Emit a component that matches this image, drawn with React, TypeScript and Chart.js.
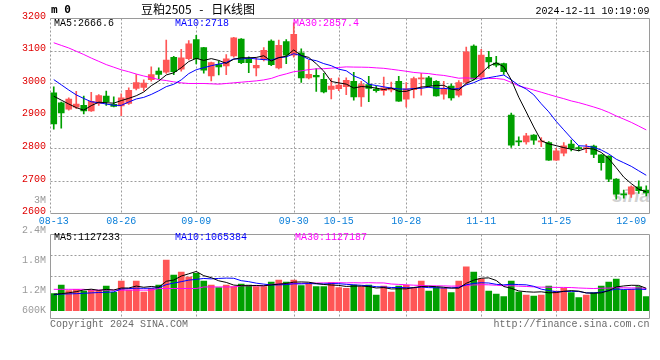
import React, { useEffect, useRef } from 'react';
import { Chart, registerables } from 'chart.js';

Chart.register(...registerables);

// ---------------- data ----------------
const dates = [
  '08-13', '08-14', '08-15', '08-16', '08-19', '08-20', '08-21', '08-22', '08-23', '08-26', '08-27', '08-28', '08-29', '08-30',
  '09-02', '09-03', '09-04', '09-05', '09-06', '09-09', '09-10', '09-11', '09-12', '09-13', '09-18', '09-19', '09-20', '09-23', '09-24', '09-25', '09-26', '09-27', '09-30',
  '10-08', '10-09', '10-10', '10-11', '10-14', '10-15', '10-16', '10-17', '10-18', '10-21', '10-22', '10-23', '10-24', '10-25', '10-28', '10-29', '10-30', '10-31',
  '11-01', '11-04', '11-05', '11-06', '11-07', '11-08', '11-11', '11-12', '11-13', '11-14', '11-15', '11-18', '11-19', '11-20', '11-21', '11-22', '11-25', '11-26', '11-27', '11-28', '11-29',
  '12-02', '12-03', '12-04', '12-05', '12-06', '12-09', '12-10', '12-11',
];

const opens = [
  2970, 2940, 2920, 2926, 2932, 2915, 2938, 2960, 2935, 2930, 2938, 2984, 2987, 3011, 3037, 3034, 3079, 3043, 3075, 3134,
  3109, 3022, 3057, 3053, 3084, 3135, 3075, 3047, 3072, 3129, 3047, 3128, 3086, 3093, 3016, 3024, 3012, 2981, 2983, 2989,
  3006, 2958, 2996, 2982, 2977, 2979, 3006, 2951, 2980, 3013, 3016, 3006, 2966, 2991, 2963, 3002, 3114, 3019, 3079, 3062,
  3060, 2902, 2822, 2820, 2841, 2820, 2818, 2764, 2785, 2813, 2801, 2799, 2807, 2780, 2776, 2706, 2659, 2659, 2682, 2672,
];
const highs = [
  2989, 2942, 2955, 2975, 2960, 2972, 2965, 2976, 2958, 2967, 2986, 3026, 3010, 3050, 3047, 3132, 3082, 3104, 3131, 3147,
  3110, 3065, 3068, 3088, 3141, 3137, 3081, 3077, 3109, 3133, 3132, 3134, 3185, 3105, 3070, 3045, 3030, 3015, 3016, 3016,
  3033, 3006, 3021, 2990, 3019, 3003, 3021, 3002, 3019, 3030, 3021, 3008, 3006, 2997, 3008, 3111, 3118, 3104, 3098, 3082,
  3062, 2908, 2835, 2846, 2842, 2833, 2821, 2800, 2818, 2825, 2807, 2812, 2810, 2781, 2777, 2707, 2672, 2685, 2700, 2685,
];
const lows = [
  2859, 2862, 2917, 2922, 2906, 2913, 2932, 2932, 2927, 2900, 2935, 2979, 2976, 3006, 3014, 3030, 3026, 3037, 3071, 3059,
  3031, 3007, 3025, 3026, 3080, 3060, 3032, 3022, 3068, 3054, 3044, 3060, 3080, 3002, 3013, 2975, 2970, 2952, 2977, 2965,
  2948, 2929, 2943, 2972, 2963, 2973, 2944, 2927, 2955, 2963, 2988, 2960, 2951, 2948, 2958, 2996, 3010, 3014, 3045, 3050,
  3027, 2803, 2808, 2813, 2812, 2805, 2763, 2763, 2777, 2792, 2792, 2787, 2771, 2733, 2698, 2644, 2647, 2649, 2662, 2654,
];
const closes = [
  2875, 2909, 2951, 2936, 2915, 2944, 2962, 2943, 2929, 2955, 2978, 3002, 3000, 3026, 3027, 3071, 3035, 3078, 3121, 3075,
  3040, 3063, 3050, 3075, 3139, 3063, 3063, 3055, 3101, 3057, 3116, 3086, 3150, 3016, 3027, 3019, 2973, 2991, 2994, 3009,
  2958, 2996, 2984, 2977, 2986, 2983, 2945, 2983, 3014, 3016, 2992, 2961, 2984, 2955, 3002, 3096, 3012, 3086, 3065, 3055,
  3035, 2810, 2820, 2838, 2825, 2822, 2764, 2792, 2808, 2800, 2799, 2801, 2781, 2756, 2705, 2659, 2657, 2682, 2670, 2663,
];
const volumes = [
  869000, 1298000, 1010000, 1081000, 995000, 1045000, 1010000, 1247000, 929000, 1500000,
  1045000, 1500000, 944000, 1131000, 1298000, 2560000, 1803000, 1954000, 1702000, 1889000,
  1500000, 1298000, 1162000, 1298000, 1212000, 1348000, 1298000, 1212000, 1212000, 1449000,
  1550000, 1449000, 1550000, 1263000, 1384000, 1212000, 1212000, 1414000, 1162000, 1131000,
  1298000, 1212000, 1298000, 793000, 1247000, 944000, 1247000, 1283000, 1131000, 1500000,
  995000, 1162000, 1131000, 909000, 1500000, 2222000, 1954000, 1616000, 995000, 843000,
  707000, 1500000, 944000, 793000, 742000, 793000, 1247000, 995000, 1131000, 909000,
  657000, 793000, 909000, 1247000, 1449000, 1601000, 1045000, 1081000, 1212000, 707000,
];

// moving-average values before enough in-window closes exist
const ma5Head = [2960, 2948, 2936, 2925];
const ma10Head = [3011, 2995, 2979, 2964, 2953, 2943, 2940, 2936, 2932];
const ma30Head = [
  3124, 3116, 3108, 3098, 3088, 3077, 3067, 3057, 3049, 3041, 3035, 3028, 3022, 3017, 3011,
  3008, 3004, 3001, 2999, 2999, 2999, 2998, 2997, 2999, 3001, 3003, 3005, 3007, 3010,
];
const volMa5Head = [830000, 860000, 905000, 960000];
const volMa10Head = [800000, 840000, 850000, 860000, 880000, 900000, 920000, 930000, 950000];
const volMa30Head = [
  1080000, 1080000, 1080000, 1080000, 1080000,
  1040000, 1040000, 1040000, 1040000, 1040000, 1040000, 1040000, 1040000, 1040000,
  1120000, 1120000, 1120000, 1120000, 1120000, 1120000,
  1200000, 1200000, 1200000, 1200000, 1200000,
  1260000, 1260000, 1260000, 1260000,
];

const priceMin = 2600;
const priceMax = 3200;
const priceStep = 100;
const xLabelDates = ['08-13', '08-26', '09-09', '09-30', '10-15', '10-28', '11-11', '11-25', '12-09'];
const xGridDates = ['08-26', '09-09', '09-30', '10-15', '10-28', '11-11', '11-25'];
const volLabelValues = [3.0, 2.4, 1.8, 1.2, 0.79];
const volLabelTexts = ['3M', '2.4M', '1.8M', '1.2M', '600K'];
const volGridFractions = [3, 2];

const priceLegend = ['MA5:2666.6', 'MA10:2718', 'MA30:2857.4'];
const volLegend = ['MA5:1127233', 'MA10:1065384', 'MA30:1127187'];
const titleText = '豆粕2505 - 日K线图';
const codeText = 'm 0';
const timeText = '2024-12-11 10:19:09';
const copyrightText = 'Copyright 2024 SINA.COM';
const urlText = 'http://finance.sina.com.cn';

// ---------------- helpers & styles ----------------
const RED = '#ff5656';
const GREEN = '#00a000';
const GRID = '#9c9c9c';
const FRAME = '#9a9a9a';
const XBLUE = '#0b7fd9';
const MONO = "'Liberation Mono', 'DejaVu Sans Mono', monospace";

function movingAverage(values: number[], n: number, head: number[]): number[] {
  return values.map((_, i) => {
    if (i < n - 1) return head[i];
    let s = 0;
    for (let k = i - n + 1; k <= i; k++) s += values[k];
    return s / n;
  });
}

// frame + dotted grid, positioned through the chart's own scales
const makeFramePlugin = (dottedLeft: boolean, hScaleId: string, hValues: () => number[]) => ({
  id: 'frameGrid',
  beforeDatasetsDraw(chart: any) {
    const { ctx, chartArea: a, scales } = chart;
    const l = Math.floor(a.left) + 0.5;
    const r = Math.ceil(a.right) - 0.5;
    const t = Math.floor(a.top) + 0.5;
    const b = Math.floor(a.bottom) + 0.5;
    ctx.save();
    ctx.strokeStyle = GRID;
    ctx.lineWidth = 1;
    ctx.setLineDash([2, 2]);
    ctx.beginPath();
    const xs = scales.x;
    dates.forEach((d, i) => {
      if (!xGridDates.includes(d)) return;
      const px = Math.round(xs.getPixelForValue(i)) + 0.5;
      ctx.moveTo(px, t);
      ctx.lineTo(px, b);
    });
    const hs = scales[hScaleId];
    hValues().forEach((v) => {
      const py = Math.round(hs.getPixelForValue(v)) + 0.5;
      ctx.moveTo(l, py);
      ctx.lineTo(r, py);
    });
    ctx.stroke();
    ctx.restore();
  },
  afterDraw(chart: any) {
    const { ctx, chartArea: a } = chart;
    const l = Math.floor(a.left) + 0.5;
    const r = Math.ceil(a.right) - 0.5;
    const t = Math.floor(a.top) + 0.5;
    const b = Math.floor(a.bottom) + 0.5;
    ctx.save();
    ctx.strokeStyle = FRAME;
    ctx.lineWidth = 1;
    ctx.beginPath();
    ctx.moveTo(l, t);
    ctx.lineTo(r, t);
    ctx.lineTo(r, b);
    ctx.lineTo(l, b);
    ctx.stroke();
    ctx.beginPath();
    if (dottedLeft) ctx.setLineDash([2, 2]);
    ctx.moveTo(l, t);
    ctx.lineTo(l, b);
    ctx.stroke();
    ctx.restore();
  },
});

const priceGridValues = () => {
  const out: number[] = [];
  for (let v = priceMin + priceStep; v < priceMax; v += priceStep) out.push(v);
  return out;
};

export default function App() {
  const priceRef = useRef<HTMLCanvasElement>(null);
  const volRef = useRef<HTMLCanvasElement>(null);

  useEffect(() => {
    const colors = closes.map((c, i) => (c >= opens[i] ? RED : GREEN));
    const ma5 = movingAverage(closes, 5, ma5Head);
    const ma10 = movingAverage(closes, 10, ma10Head);
    const ma30 = movingAverage(closes, 30, ma30Head);
    const vma5 = movingAverage(volumes, 5, volMa5Head);
    const vma10 = movingAverage(volumes, 10, volMa10Head);
    const vma30 = movingAverage(volumes, 30, volMa30Head);

    const lineDs = (data: number[], color: string, yAxisID = 'y') => ({
      type: 'line' as const,
      data,
      borderColor: color,
      borderWidth: 1,
      pointRadius: 0,
      tension: 0,
      fill: false,
      order: 0,
      yAxisID,
    });

    const price = new Chart(priceRef.current!, {
      type: 'bar',
      data: {
        labels: dates,
        datasets: [
          lineDs(ma5, '#000000'),
          lineDs(ma10, '#0000ff'),
          lineDs(ma30, '#ff00ff'),
          {
            type: 'bar',
            data: opens.map((o, i) => [o, closes[i]]),
            backgroundColor: colors,
            barThickness: 6,
            minBarLength: 1,
            grouped: false,
            order: 5,
          } as any,
          {
            type: 'bar',
            data: lows.map((l, i) => [l, highs[i]]),
            backgroundColor: colors,
            barThickness: 1,
            grouped: false,
            order: 6,
          } as any,
        ],
      },
      options: {
        responsive: false,
        animation: false,
        events: [],
        layout: { padding: { top: 18, right: 10, left: 0, bottom: 0 } },
        plugins: { legend: { display: false }, tooltip: { enabled: false } },
        scales: {
          x: {
            type: 'category',
            offset: true,
            grid: { display: false, offset: false, drawTicks: false },
            border: { display: false },
            ticks: {
              autoSkip: false,
              maxRotation: 0,
              minRotation: 0,
              padding: 2,
              color: XBLUE,
              font: { family: MONO, size: 10 },
              callback: (_v: any, i: number) => (xLabelDates.includes(dates[i]) ? dates[i] : ''),
            },
            afterFit: (s: any) => {
              s.height = 16.5;
            },
          },
          y: {
            min: priceMin,
            max: priceMax,
            ticks: {
              stepSize: priceStep,
              color: '#e00000',
              font: { family: MONO, size: 10 },
              padding: 4,
              labelOffset: -2,
              callback: (v: any) => String(v),
            },
            grid: { display: false, drawTicks: false },
            border: { display: false },
            afterFit: (s: any) => {
              s.width = 50;
            },
          },
        },
      } as any,
      plugins: [makeFramePlugin(true, 'y', priceGridValues)],
    });

    const vol = new Chart(volRef.current!, {
      type: 'bar',
      data: {
        labels: dates,
        datasets: [
          lineDs(vma5, '#000000'),
          lineDs(vma10, '#0000ff'),
          lineDs(vma30, '#ff00ff'),
          {
            type: 'bar',
            data: volumes,
            backgroundColor: colors,
            barThickness: 6,
            grouped: false,
            order: 5,
          } as any,
        ],
      },
      options: {
        responsive: false,
        animation: false,
        events: [],
        layout: { padding: { top: 44, right: 10, left: 0, bottom: 41.5 } },
        plugins: { legend: { display: false }, tooltip: { enabled: false } },
        scales: {
          x: {
            type: 'category',
            offset: true,
            display: true,
            grid: { display: false, offset: false, drawTicks: false },
            border: { display: false },
            ticks: { display: false, autoSkip: false, maxRotation: 0 },
            afterFit: (s: any) => {
              s.height = 0;
            },
          },
          y: {
            display: false,
            min: -394000,
            max: 3874000,
          },
          yl: {
            position: 'left',
            min: 0.636,
            max: 2.326,
            afterBuildTicks: (s: any) => {
              s.ticks = volLabelValues.map((v) => ({ value: v }));
            },
            ticks: {
              color: '#9a9a9a',
              font: { family: MONO, size: 10 },
              padding: 4,
              callback: (_v: any, i: number) => volLabelTexts[i],
            },
            grid: { display: false, drawTicks: false },
            border: { display: false },
            afterFit: (s: any) => {
              s.width = 50;
            },
          },
          yg: {
            display: false,
            position: 'right',
            min: 0,
            max: 4,
          },
        },
      } as any,
      plugins: [makeFramePlugin(false, 'yg', () => volGridFractions)],
    });

    return () => {
      price.destroy();
      vol.destroy();
    };
  }, []);

  const txt = (extra: React.CSSProperties): React.CSSProperties => ({
    position: 'absolute',
    whiteSpace: 'nowrap',
    fontFamily: MONO,
    fontSize: 10,
    lineHeight: '10px',
    zIndex: 5,
    ...extra,
  });

  return (
    <div style={{ position: 'absolute', left: 0, top: 0, width: 660, height: 360, background: '#fff', overflow: 'hidden' }}>
      <div
        style={{
          position: 'absolute',
          left: 612,
          top: 186,
          fontFamily: "'Liberation Sans', Arial, sans-serif",
          fontStyle: 'italic',
          fontWeight: 'bold',
          fontSize: 19,
          lineHeight: '19px',
          color: 'rgba(170,170,170,0.55)',
          zIndex: 1,
        }}
      >
        sina
      </div>
      <canvas ref={volRef} width={660} height={170} style={{ position: 'absolute', left: 0, top: 190, zIndex: 2 }} />
      <canvas ref={priceRef} width={660} height={230} style={{ position: 'absolute', left: 0, top: 0, zIndex: 3 }} />

      <div style={txt({ left: 51, top: 4, fontFamily: "'DejaVu Sans Mono', monospace", fontWeight: 'bold', fontSize: 11, lineHeight: '11px', color: '#000' })}>
        {codeText}
      </div>
      <div
        style={txt({
          left: 141,
          top: 3,
          fontFamily: "'Noto Sans CJK SC', sans-serif",
          fontSize: 12,
          lineHeight: '12px',
          wordSpacing: 5,
          color: '#000',
        })}
      >
        {titleText}
      </div>
      <div style={txt({ right: 10.5, top: 7.3, color: '#000' })}>{timeText}</div>

      <div style={txt({ left: 54, top: 19.2, color: '#000' })}>{priceLegend[0]}</div>
      <div style={txt({ left: 175, top: 19.2, color: '#0000ff' })}>{priceLegend[1]}</div>
      <div style={txt({ left: 293, top: 19.2, color: '#ff00ff' })}>{priceLegend[2]}</div>

      <div style={txt({ left: 54, top: 233, color: '#000' })}>{volLegend[0]}</div>
      <div style={txt({ left: 175, top: 233, color: '#0000ff' })}>{volLegend[1]}</div>
      <div style={txt({ left: 295, top: 233, color: '#ff00ff' })}>{volLegend[2]}</div>

      <div style={txt({ left: 50, top: 319.6, color: '#6a6a6a' })}>{copyrightText}</div>
      <div style={txt({ right: 10.5, top: 319.6, color: '#6a6a6a' })}>{urlText}</div>
    </div>
  );
}
